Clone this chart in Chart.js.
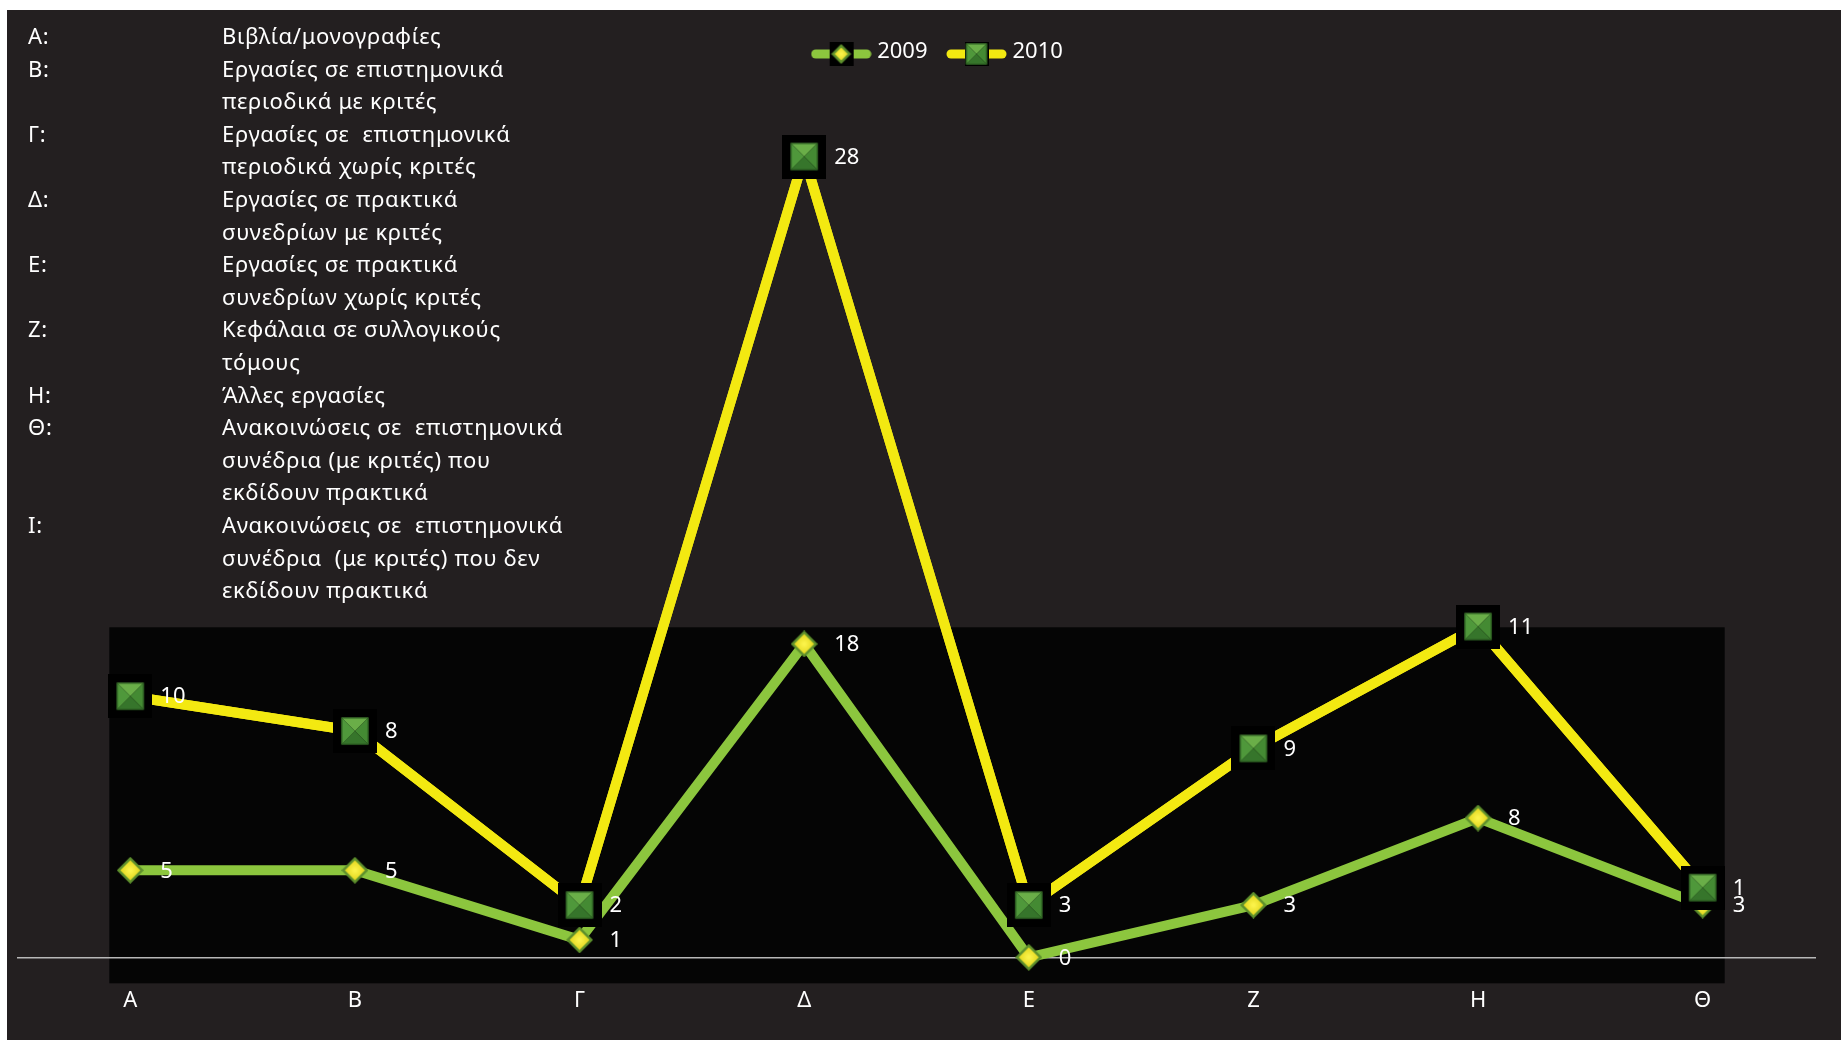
<!DOCTYPE html>
<html>
<head>
<meta charset="utf-8">
<script src="https://cdn.jsdelivr.net/npm/chart.js@4.4.1/dist/chart.umd.min.js"></script>
<style>
  html, body { margin: 0; padding: 0; background: #fff; }
  #wrap { position: absolute; left: 7px; top: 10px; width: 1834px; height: 1030px; background: #231f20; }
  #notes { position: absolute; left: 28px; top: 19px; color: #fff; font-family: "Noto Sans", sans-serif; font-size: 22px; line-height: 32.6px; letter-spacing: 0.7px; z-index: 2; }
  .row { display: flex; }
  .code { width: 194px; }
  .desc { white-space: pre-wrap; }
</style>
</head>
<body>
<div id="wrap"><canvas id="chart"></canvas></div>
<div id="notes"></div>
<script>
const categories = ["Α", "Β", "Γ", "Δ", "Ε", "Ζ", "Η", "Θ"];
const values2009 = [5, 5, 1, 18, 0, 3, 8, 3];
const values2010 = [10, 8, 2, 28, 3, 9, 11, 1];
const seriesNames = ["2009", "2010"];

const noteCodes = ["Α:", "Β:", "Γ:", "Δ:", "Ε:", "Ζ:", "Η:", "Θ:", "Ι:"];
const noteTexts = [
    "Βιβλία/μονογραφίες",
    "Εργασίες σε επιστημονικά\nπεριοδικά με κριτές",
    "Εργασίες σε  επιστημονικά\nπεριοδικά χωρίς κριτές",
    "Εργασίες σε πρακτικά\nσυνεδρίων με κριτές",
    "Εργασίες σε πρακτικά\nσυνεδρίων χωρίς κριτές",
    "Κεφάλαια σε συλλογικούς\nτόμους",
    "Άλλες εργασίες",
    "Ανακοινώσεις σε  επιστημονικά\nσυνέδρια (με κριτές) που\nεκδίδουν πρακτικά",
    "Ανακοινώσεις σε  επιστημονικά\nσυνέδρια  (με κριτές) που δεν\nεκδίδουν πρακτικά"
];

const FONT = "Noto Sans";
const GREEN = "#8cc63e";
const YELLOW = "#f3e911";

// category notes (top-left block)
const notes = document.getElementById("notes");
noteCodes.forEach((code, i) => {
    const row = document.createElement("div");
    row.className = "row";
    row.innerHTML = `<div class="code">${code}</div><div class="desc">${noteTexts[i]}</div>`;
    notes.appendChild(row);
});

// ── marker images ────────────────────────────────────────────────────────────

function squareMarker(size, pad) {
    const full = size + pad * 2;
    const c = document.createElement("canvas");
    c.width = full; c.height = full;
    const g = c.getContext("2d");
    if (pad > 0) { g.fillStyle = "#000"; g.fillRect(0, 0, full, full); }
    const x0 = pad, y0 = pad, x1 = pad + size, y1 = pad + size, cx = full / 2, cy = full / 2;
    const tri = (ax, ay, bx, by, col) => {
        g.beginPath(); g.moveTo(ax, ay); g.lineTo(bx, by); g.lineTo(cx, cy); g.closePath();
        g.fillStyle = col; g.fill();
    };
    tri(x0, y0, x1, y0, "#6aae48");
    tri(x1, y0, x1, y1, "#448a33");
    tri(x1, y1, x0, y1, "#36752b");
    tri(x0, y1, x0, y0, "#4f983b");
    g.strokeStyle = "#2c5f22"; g.lineWidth = 1;
    g.strokeRect(x0 + 0.5, y0 + 0.5, size - 1, size - 1);
    return c;
}

function diamondMarker(size, pad, backdrop) {
    const full = size + pad * 2;
    const c = document.createElement("canvas");
    c.width = full; c.height = full;
    const g = c.getContext("2d");
    if (backdrop) { g.fillStyle = "#000"; g.fillRect(0, 0, full, full); }
    const cx = full / 2, cy = full / 2, r = size / 2;
    const diamond = (rr) => {
        g.beginPath(); g.moveTo(cx, cy - rr); g.lineTo(cx + rr, cy); g.lineTo(cx, cy + rr); g.lineTo(cx - rr, cy); g.closePath();
    };
    diamond(r); g.fillStyle = "#5e902d"; g.fill();
    const grad = g.createRadialGradient(cx, cy, 1, cx, cy, r);
    grad.addColorStop(0, "#fbf34a");
    grad.addColorStop(1, "#d8cc0c");
    diamond(r - 3.5); g.fillStyle = grad; g.fill();
    return c;
}

function legendSymbol(lineColor, marker) {
    const w = 61, h = 30;
    const c = document.createElement("canvas");
    c.width = w; c.height = h;
    const g = c.getContext("2d");
    const cy = h / 2 + 2;
    g.strokeStyle = lineColor; g.lineWidth = 9; g.lineCap = "round";
    g.beginPath(); g.moveTo(5, cy); g.lineTo(w - 5, cy); g.stroke();
    g.drawImage(marker, (w - marker.width) / 2, cy - marker.height / 2);
    return c;
}

const point2009 = diamondMarker(27, 0, false);
const point2010 = squareMarker(27, 8.5);
const legend2009 = legendSymbol(GREEN, diamondMarker(20, 2, true));
const legend2010 = legendSymbol(YELLOW, squareMarker(21, 1.5));

// ── plugins ──────────────────────────────────────────────────────────────────

const plotBox = {
    id: "plotBox",
    afterLayout(chart) {
        // legend sits a little right of centre in the original
        chart.legend.left += 23;
        chart.legend.right += 23;
    },
    beforeDraw(chart) {
        const { ctx, chartArea, scales } = chart;
        const left = scales.x.getPixelForTick(0) - 21;
        const right = scales.x.getPixelForTick(categories.length - 1) + 22;
        const top = chartArea.bottom - 330;
        const bottom = chartArea.bottom + 26;
        ctx.save();
        ctx.fillStyle = "#050505";
        ctx.fillRect(left, top, right - left, bottom - top);
        ctx.restore();
    }
};

const valueLabels = {
    id: "valueLabels",
    afterDatasetsDraw(chart) {
        // 2010 series sits above the 2009 one
        chart.getDatasetMeta(1).controller.draw();
        const ctx = chart.ctx;
        ctx.save();
        ctx.font = `22px "${FONT}"`;
        ctx.fillStyle = "#fff";
        ctx.textAlign = "left";
        ctx.textBaseline = "middle";
        chart.data.datasets.forEach((ds, i) => {
            chart.getDatasetMeta(i).data.forEach((pt, j) => {
                ctx.fillText(String(ds.data[j]), pt.x + 30, pt.y + 1);
            });
        });
        ctx.restore();
    }
};

// ── chart ────────────────────────────────────────────────────────────────────

new Chart(document.getElementById("chart"), {
    type: "line",
    data: {
        labels: categories,
        datasets: [
            {
                label: seriesNames[0],
                data: values2009,
                borderColor: GREEN,
                backgroundColor: GREEN,
                borderWidth: 10,
                borderJoinStyle: "round",
                tension: 0,
                fill: false,
                pointStyle: point2009,
                pointRadius: 13,
                clip: false,
            },
            {
                label: seriesNames[1],
                data: values2010,
                borderColor: YELLOW,
                backgroundColor: YELLOW,
                borderWidth: 10,
                borderJoinStyle: "round",
                tension: 0,
                fill: false,
                pointStyle: point2010,
                pointRadius: 13,
                clip: false,
            }
        ]
    },
    options: {
        responsive: true,
        maintainAspectRatio: false,
        animation: false,
        devicePixelRatio: 1,
        layout: { autoPadding: false, padding: { left: 11, right: 26, top: 7, bottom: -3.7 } },
        plugins: {
            tooltip: { enabled: false },
            legend: {
                position: "top",
                labels: {
                    color: "#fff",
                    font: { family: FONT, size: 22 },
                    usePointStyle: true,
                    pointStyleWidth: 50,
                    padding: 24,
                    generateLabels(chart) {
                        const items = Chart.defaults.plugins.legend.labels.generateLabels(chart);
                        items.forEach(it => { it.pointStyle = it.datasetIndex === 0 ? legend2009 : legend2010; });
                        return items;
                    }
                }
            }
        },
        scales: {
            x: {
                offset: true,
                grid: { display: false, drawTicks: false },
                border: { display: true, color: "#b8b8b8", width: 1.5 },
                ticks: { color: "#fff", font: { family: FONT, size: 22 }, padding: 30 }
            },
            y: {
                display: false,
                stacked: true,
                min: 0,
                max: 50.8
            }
        }
    },
    plugins: [plotBox, valueLabels]
});
</script>
</body>
</html>
